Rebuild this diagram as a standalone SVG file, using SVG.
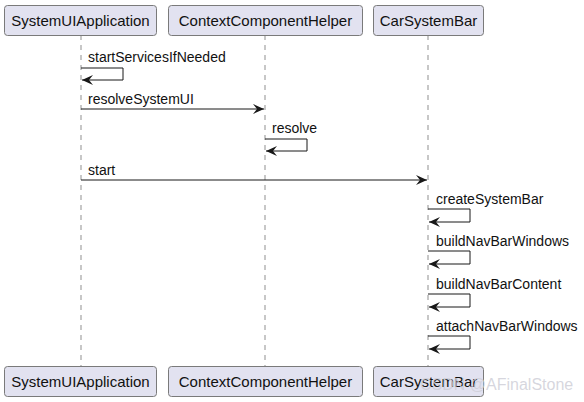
<svg xmlns="http://www.w3.org/2000/svg" width="584" height="402" viewBox="0 0 584 402">
<style>
.box{fill:#E2E2F0;stroke:#7a7a7a;stroke-width:1}
.bt{font-family:"Liberation Sans","Noto Sans",sans-serif;font-size:15px;fill:#111;text-anchor:middle}
.life{stroke:#b5b5b5;stroke-width:1.5;stroke-dasharray:5,5;fill:none}
.msg{stroke:#181818;stroke-width:1;fill:none}
.mt{font-family:"Liberation Sans","Noto Sans",sans-serif;font-size:14px;fill:#111}
.ah{fill:#181818}
.wm{font-family:"Liberation Sans","Noto Sans",sans-serif;font-size:16px;fill:#cfcfd8;fill-opacity:0.85}
</style>
<defs>
<marker id="arr" viewBox="0 0 12 10" refX="11" refY="5" markerWidth="12" markerHeight="10" markerUnits="userSpaceOnUse" orient="auto">
<path class="ah" d="M0,0 L11,5 L0,10 L4,5 Z"/>
</marker>
</defs>
<g id="lifelines">
<line class="life" x1="81" y1="35" x2="81" y2="366"/>
<line class="life" x1="265" y1="35" x2="265" y2="366"/>
<line class="life" x1="428" y1="35" x2="428" y2="366"/>
</g>
<g id="node-systemui-top"><rect class="box" x="4.5" y="5.5" width="152" height="30" rx="3"/><text class="bt" x="80.5" y="25.5">SystemUIApplication</text></g>
<g id="node-ctx-top"><rect class="box" x="168.5" y="5.5" width="194" height="30" rx="3"/><text class="bt" x="265.5" y="25.5">ContextComponentHelper</text></g>
<g id="node-car-top"><rect class="box" x="373.5" y="5.5" width="110" height="30" rx="3"/><text class="bt" x="428.5" y="25.5">CarSystemBar</text></g>
<g id="node-systemui-bottom"><rect class="box" x="4.5" y="366.5" width="152" height="30" rx="3"/><text class="bt" x="80.5" y="386.5">SystemUIApplication</text></g>
<g id="node-ctx-bottom"><rect class="box" x="168.5" y="366.5" width="194" height="30" rx="3"/><text class="bt" x="265.5" y="386.5">ContextComponentHelper</text></g>
<g id="node-car-bottom"><rect class="box" x="373.5" y="366.5" width="110" height="30" rx="3"/><text class="bt" x="428.5" y="386.5">CarSystemBar</text></g>
<g id="connectors">
<polyline class="msg" points="81,68 123,68 123,80 82,80" marker-end="url(#arr)"/>
<text class="mt" x="88" y="62">startServicesIfNeeded</text>
<line class="msg" x1="81" y1="109" x2="264" y2="109" marker-end="url(#arr)"/>
<text class="mt" x="88" y="104">resolveSystemUI</text>
<polyline class="msg" points="265,139 307,139 307,151 266,151" marker-end="url(#arr)"/>
<text class="mt" x="272" y="133">resolve</text>
<line class="msg" x1="81" y1="180" x2="427" y2="180" marker-end="url(#arr)"/>
<text class="mt" x="88" y="175">start</text>
<polyline class="msg" points="428,209 470,209 470,222 429,222" marker-end="url(#arr)"/>
<text class="mt" x="436" y="204">createSystemBar</text>
<polyline class="msg" points="428,251 470,251 470,264 429,264" marker-end="url(#arr)"/>
<text class="mt" x="436" y="246">buildNavBarWindows</text>
<polyline class="msg" points="428,294 470,294 470,307 429,307" marker-end="url(#arr)"/>
<text class="mt" x="436" y="289">buildNavBarContent</text>
<polyline class="msg" points="428,336 470,336 470,349 429,349" marker-end="url(#arr)"/>
<text class="mt" x="436" y="331">attachNavBarWindows</text>
</g>
<text class="wm" x="420" y="390">CSDN @AFinalStone</text>
</svg>
